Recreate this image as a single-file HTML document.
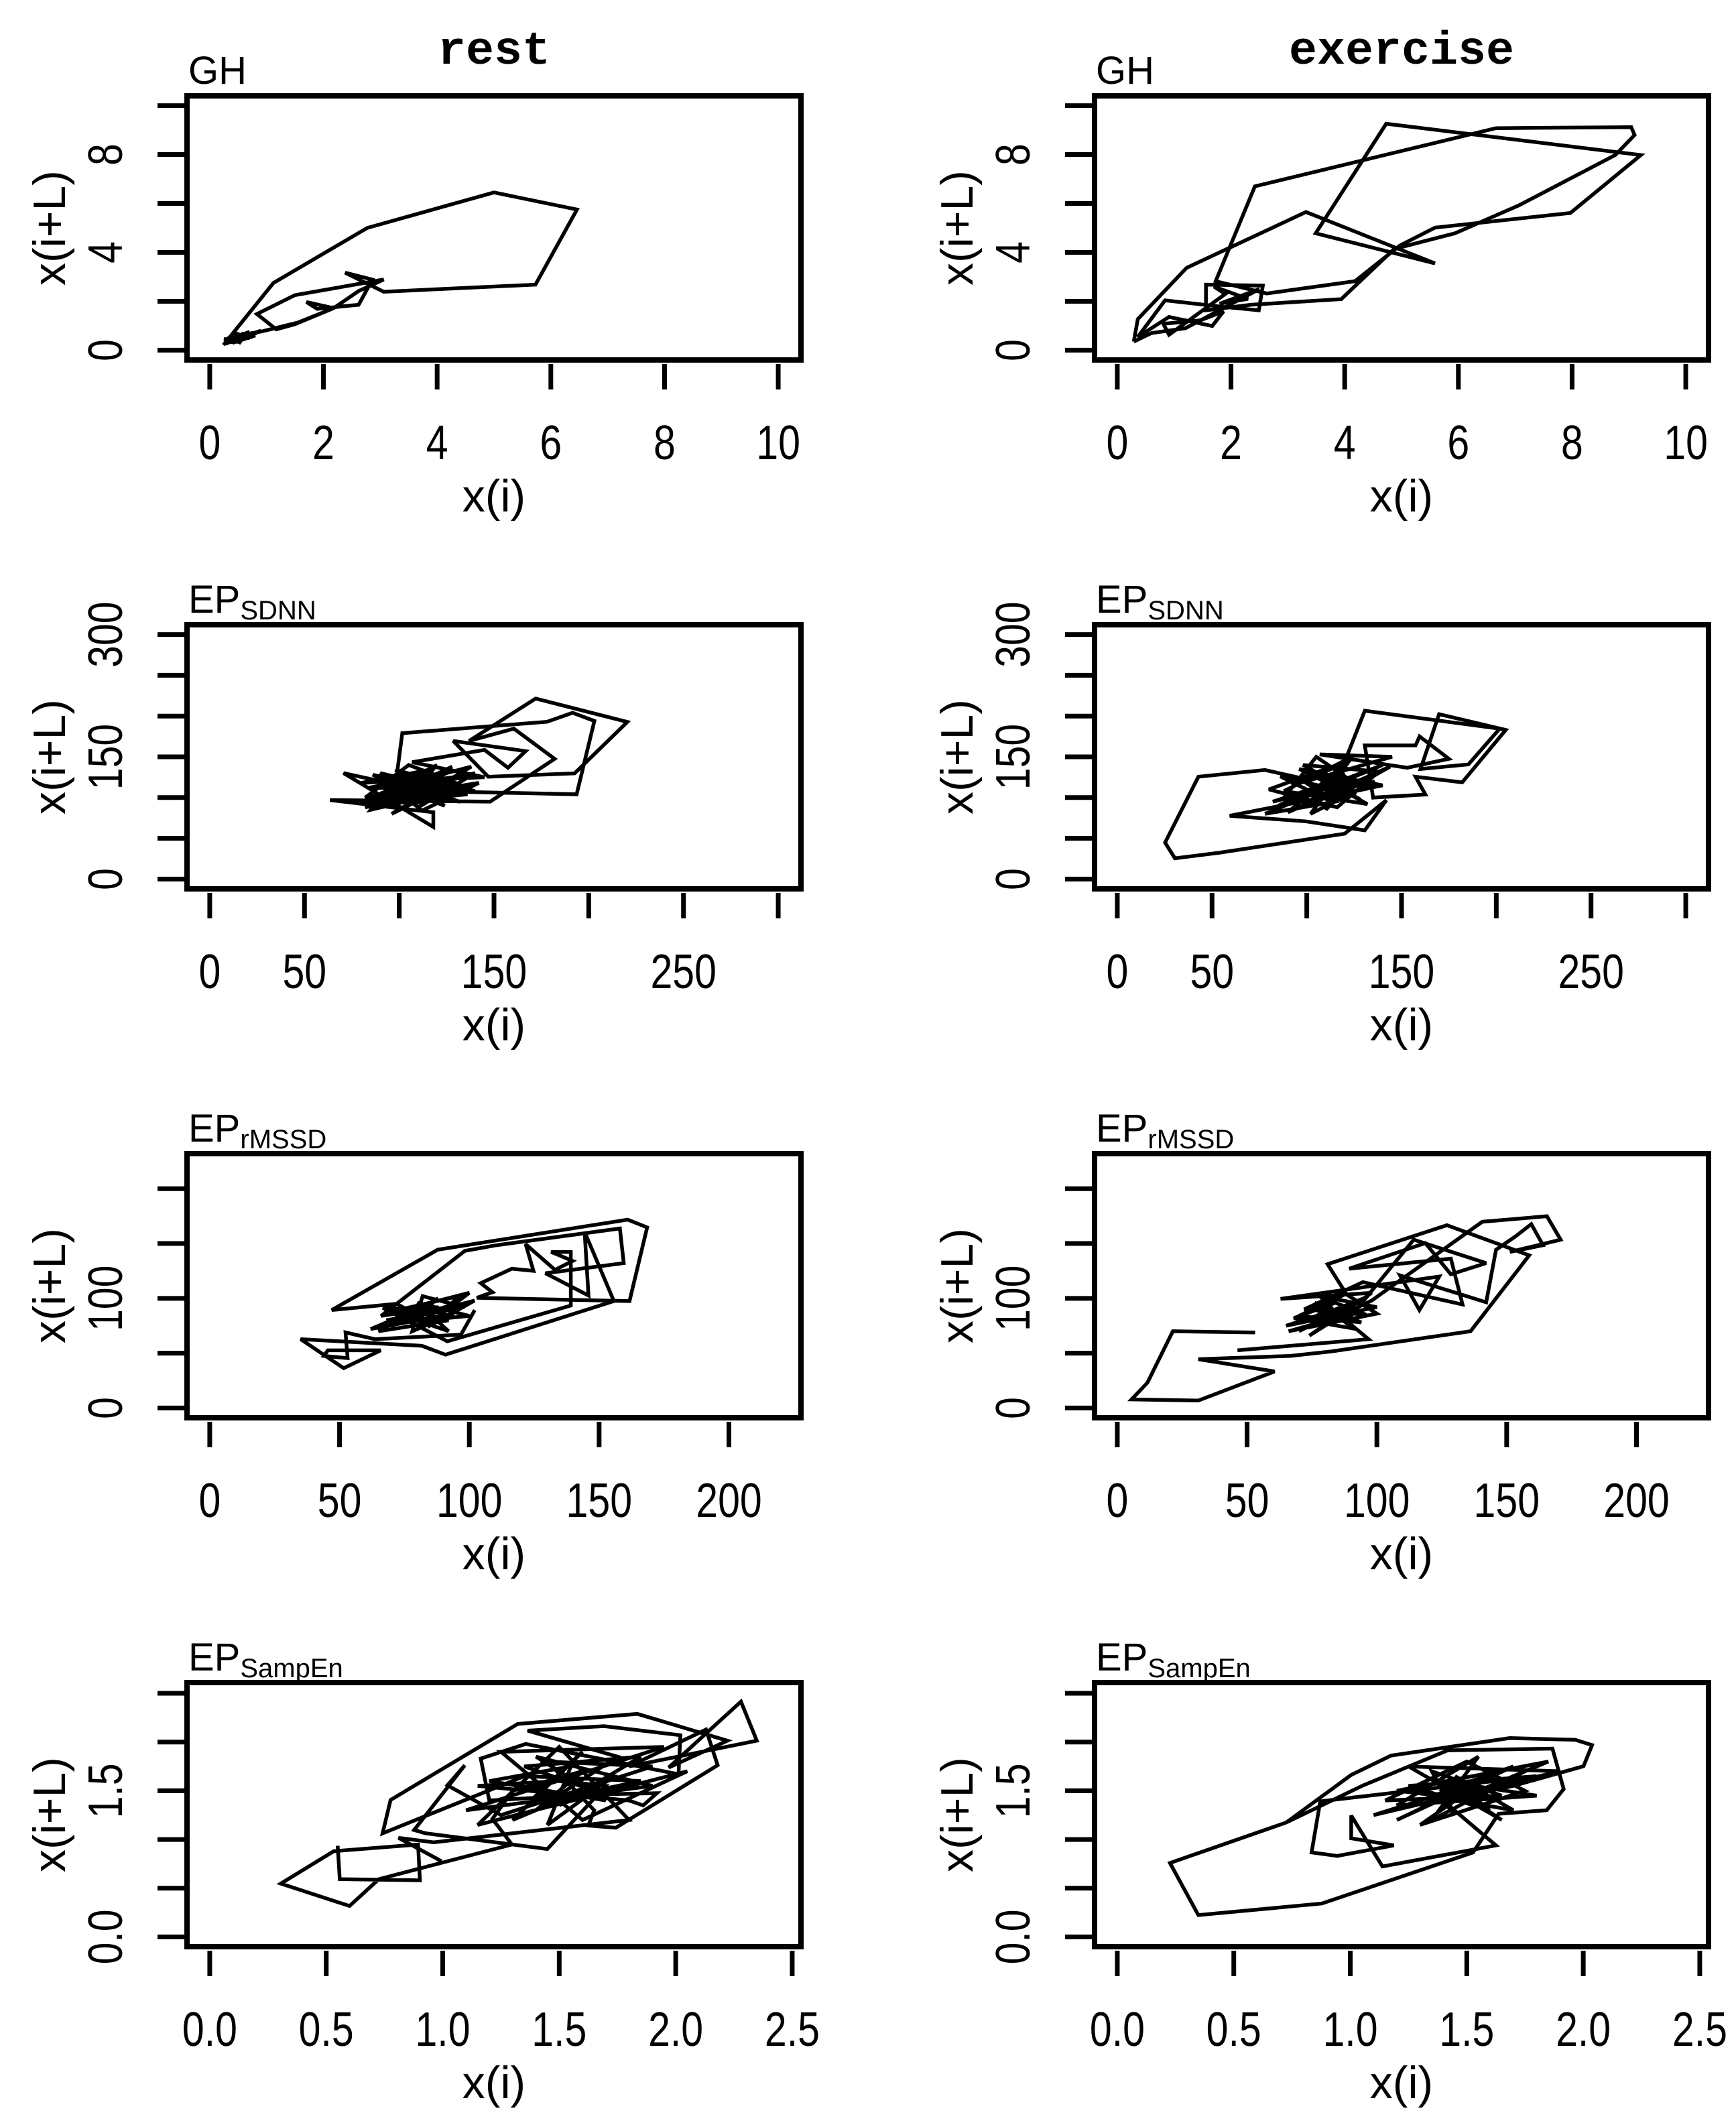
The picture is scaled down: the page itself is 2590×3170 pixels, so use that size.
<!DOCTYPE html>
<html><head><meta charset="utf-8"><style>
html,body{margin:0;padding:0;background:#fff;}
svg{display:block;}
text{font-family:"Liberation Sans",Arial,sans-serif;fill:#000;}
</style></head><body>
<svg id="chart" width="2590" height="3170" viewBox="0 0 2590 3170" xmlns="http://www.w3.org/2000/svg">
<rect x="0" y="0" width="2590" height="3170" fill="#fff"/>
<text x="737" y="95" text-anchor="middle" style="font-family:'Liberation Mono',monospace;font-size:70px;font-weight:bold">rest</text>
<text x="2091" y="95" text-anchor="middle" style="font-family:'Liberation Mono',monospace;font-size:70px;font-weight:bold">exercise</text>
</svg>
<script>
// ---- data (x(i), x(i+L)) pairs ----
const ghRest = [[0.24,0.21],[1.12,2.75],[2.77,5.0],[5.0,6.45],[6.46,5.75],[5.73,2.68],[3.06,2.39],[2.38,3.17],[2.86,2.89],[2.62,1.86],[1.89,1.69],[1.70,1.97],[2.18,1.72],[1.50,1.06],[1.17,0.85],[0.83,1.48],[1.50,2.25],[3.06,2.89],[2.62,2.42],[2.18,1.72],[1.55,1.13],[0.92,0.77],[0.5,0.6],[0.3,0.4],[0.7,0.75],[0.4,0.3],[0.8,0.6],[0.35,0.55],[0.6,0.45],[0.3,0.3],[0.9,0.8],[0.5,0.35],[0.25,0.45],[0.7,0.5],[0.45,0.7],[0.28,0.25],[0.6,0.7],[0.35,0.35],[0.75,0.55],[0.4,0.65],[0.55,0.3],[0.3,0.5]];
const ghEx = [[0.29,0.35],[0.36,1.27],[1.22,3.37],[3.32,5.65],[5.59,3.55],[3.49,4.78],[4.73,9.26],[9.21,7.98],[7.97,5.61],[5.59,5.01],[4.97,4.28],[4.18,2.82],[2.63,2.32],[1.73,2.82],[2.42,6.70],[6.66,9.08],[9.04,9.12],[9.10,8.80],[8.76,7.98],[7.07,5.93],[5.94,4.78],[4.87,4.14],[3.94,2.09],[2.35,1.86],[1.56,1.63],[1.56,2.68],[2.56,2.64],[2.49,1.63],[1.87,1.77],[0.84,2.04],[0.36,0.54],[0.91,1.36],[1.67,0.99],[1.87,1.59],[1.46,1.22],[0.81,1.08],[0.91,0.63],[1.9,2.3],[1.7,2.6],[2.3,2.1],[1.8,1.9],[2.5,2.5],[1.2,0.9],[0.6,0.7],[0.29,0.35]];
const sdnnRest = [[95,110],[120,125],[88,95],[130,118],[105,140],[82,100],[140,130],[110,88],[92,120],[125,105],[100,130],[85,85],[135,112],[115,98],[98,115],[101.6,179],[178,193],[191.5,204],[203,194],[193.6,104],[114,108],[70.6,130],[118,64],[118,82],[63.4,97],[148,95],[182,147.5],[160.5,184.5],[136.8,169.5],[172,221.5],[220.4,192.8],[192.5,129.7],[147,125.6],[128.5,169.5],[166.7,157],[157.4,136.6],[145,158.5],[106.8,143.4],[145,125],[80,118],[118,135],[104,92],[128,100],[90,105],[112,122],[138,138],[96,80],[122,110],[86,128],[108,102],[132,95],[100,118],[116,112],[84,112],[126,132],[102,96],[136,104],[90,130],[112,84],[142,118],[94,100],[120,140],[80,92],[132,126],[106,118],[124,90],[88,122],[140,108],[98,134],[114,104],[82,88],[128,138],[104,112]];
const sdnnEx = [[85,90],[120,130],[100,105],[140,140],[78,80],[115,95],[95,125],[77.9,133.8],[42.8,125.6],[25.2,44.7],[30.4,25.5],[54,32.4],[120,55.7],[142,96.8],[130.6,59.8],[99.6,70.8],[59.3,77.6],[130,110],[105,150],[88,100],[125,120],[110,85],[130.6,206.5],[201.8,184.5],[185.3,140.7],[160,135],[169.8,202.3],[205,183],[182,118.7],[157.4,125.6],[162.6,103.7],[135,100],[130.6,164],[157.4,164],[159.5,175],[175,147.5],[153,136.6],[106.8,153],[145,150],[92,115],[118,140],[100,90],[135,125],[82,95],[112,118],[128,98],[96,135],[140,115],[108,100],[90,82],[122,145],[80,110],[116,88],[138,132],[98,140],[126,104],[86,126],[112,96],[144,138],[94,86],[120,118],[104,128],[132,92],[88,108],[124,150],[102,80],[136,120]];
const rmssdRest = [[80,85],[95,95],[70,75],[88,100],[65,70],[92,80],[75,90],[100,105],[85,78],[72,95],[47,89.3],[87.8,144.3],[161,171.8],[168.5,164.7],[161.7,97.5],[102.9,100.5],[108.9,105.6],[104.4,113.8],[116.4,127],[124.7,125],[121.7,149.4],[133,126],[139.8,134.1],[131.5,142.3],[139.1,142.3],[139.1,93.4],[91.5,60.8],[66.7,91.3],[90,88],[68,80],[98,92],[82,102],[78,70],[94,86],[62,72],[86,96],[76,82],[102,98],[84,74],[96,102],[70,88],[92,70],[80,96],[100,84],[74,78],[88,92],[66,84],[98.3,143.3],[110.4,148.4],[158,163.7],[159.5,132.1],[129.3,122.9],[145.9,102.6],[144.4,160.6],[155.7,97.5],[90.8,48.6],[81.7,56.7],[35,62.8],[51.6,36.3],[65.9,52.6],[45.5,52.6],[44,47.5],[53.1,45.5],[52.3,68.9],[63.6,62.8],[96.8,66.9],[102.1,89.3]];
const rmssdEx = [[53.1,68.9],[21.4,70],[11.6,23.1],[5.5,7.8],[31.2,6.8],[60.6,33.3],[31.2,44.5],[66.6,47.5],[82.5,51.6],[136.1,70],[158.7,139.2],[127,166.7],[81,131.1],[87.8,105.6],[75,80],[90,95],[70,70],[95,100],[82,88],[65,75],[100,92],[78,102],[88,78],[114.2,153.5],[142.1,132.1],[128.5,121.9],[118.7,150.4],[89.3,127],[128.5,136.2],[133,94.4],[94.6,114.8],[72,90],[96,85],[84,96],[68,82],[92,72],[80,90],[76,96],[94,78],[70,84],[88,104],[100,86],[66,70],[84,82],[98,98],[140.6,169.8],[165.5,174.9],[170.8,153.5],[151.2,142.3],[164,148.4],[159.5,167.7],[153.4,156.5],[145.9,144.3],[142.1,96.4],[108.9,120.9],[116.4,89.3],[124,119.9],[62.9,99.5],[98,105],[74,66],[86,84],[96.8,62.8],[46.3,52.6]];
const sampRest = [[0.549,0.936],[0.558,0.593],[0.902,0.581],[0.894,0.948],[0.532,0.879],[0.305,0.547],[0.60,0.317],[0.726,0.593],[1.297,0.948],[1.213,1.211],[1.3,1.5],[1.6,1.7],[1.4,1.3],[1.75,1.85],[1.364,2.117],[1.692,2.163],[2.02,2.07],[2.012,1.67],[1.356,1.98],[1.163,1.83],[1.2,1.4],[1.55,1.45],[1.85,1.6],[1.35,1.65],[0.742,1.063],[0.776,1.406],[1.322,2.186],[1.835,2.289],[2.222,2.014],[1.97,1.739],[2.28,2.415],[2.348,2.014],[1.80,1.75],[2.13,2.128],[2.18,1.762],[1.743,1.12],[1.625,1.143],[1.65,1.3],[1.45,1.8],[1.9,1.75],[1.25,1.25],[1.02,1.556],[1.095,1.762],[0.877,1.097],[0.927,1.063],[1.449,0.902],[1.7,1.55],[1.5,1.6],[1.15,1.55],[1.8,1.4],[1.86,1.349],[1.919,1.475],[1.4,1.45],[1.6,1.9],[1.3,1.2],[1.75,1.65],[1.5,1.35],[1.85,1.85],[1.35,1.75],[1.65,1.5],[1.45,1.15],[1.55,1.75],[1.2,1.6],[1.7,1.4],[1.4,1.85],[1.9,1.55],[1.1,1.3],[1.95,1.95],[1.25,1.9],[1.6,1.2],[2.05,1.7],[1.15,1.15],[1.5,1.95],[1.8,1.2],[0.961,0.971],[0.81,1.017],[0.995,0.776]];
const sampEx = [[0.725,1.174],[0.226,0.759],[0.348,0.224],[0.878,0.343],[1.527,0.867],[1.637,1.264],[1.843,1.30],[1.916,1.517],[1.868,1.933],[1.418,1.915],[1.053,1.553],[0.725,1.174],[1.004,1.662],[1.175,1.861],[1.685,2.041],[1.965,2.023],[2.038,1.969],[2.001,1.752],[1.70,1.55],[1.3,1.35],[1.55,1.6],[1.2,1.2],[1.7,1.75],[1.4,1.5],[1.6,1.3],[1.25,1.55],[1.8,1.65],[0.871,1.391],[0.834,0.867],[0.944,0.831],[1.187,0.939],[1.004,1.012],[1.004,1.246],[1.138,0.723],[1.625,0.939],[1.393,1.409],[1.45,1.25],[1.35,1.7],[1.65,1.45],[1.15,1.4],[1.5,1.8],[1.75,1.5],[1.3,1.15],[1.6,1.65],[1.4,1.35],[1.85,1.8],[1.2,1.5],[1.55,1.4],[1.45,1.65],[1.7,1.3],[1.35,1.45],[1.5,1.55],[1.1,1.25],[1.9,1.7],[1.25,1.75],[1.65,1.2],[1.4,1.6],[1.8,1.45],[1.2,1.35],[1.55,1.85],[1.35,1.2],[1.75,1.7]];

// ---- axes (tick values & labels) ----
const ghTicks = [0,2,4,6,8,10];
const ghXLabels = ["0","2","4","6","8","10"];
const ghYLabels = ["0","","4","","8",""];
const sdnnTicks = [0,50,100,150,200,250,300];
const sdnnXLabels = ["0","50","","150","","250",""];
const sdnnYLabels = ["0","","","150","","","300"];
const rmssdTicks = [0,50,100,150,200];
const rmssdXLabels = ["0","50","100","150","200"];
const rmssdYLabels = ["0","","100","",""];
const sampTicks = [0,0.5,1,1.5,2,2.5];
const sampXLabels = ["0.0","0.5","1.0","1.5","2.0","2.5"];
const sampYLabels = ["0.0","","","1.5","",""];

const NS = "http://www.w3.org/2000/svg";
const svg = document.getElementById('chart');
function mk(tag, attrs, parent){const e=document.createElementNS(NS,tag);for(const k in attrs)e.setAttribute(k,attrs[k]);(parent||svg).appendChild(e);return e;}

const W=916,H=394;
const colX=[279,1633];
const rowY=[143,932,1721,2510];

const panels=[
 {row:0,col:0,name:'gh-rest',title:'GH',sub:'',data:ghRest,xl:[0,10],yl:[0,10],xt:ghTicks,yt:ghTicks,xlab:ghXLabels,ylab:ghYLabels},
 {row:0,col:1,name:'gh-exercise',title:'GH',sub:'',data:ghEx,xl:[0,10],yl:[0,10],xt:ghTicks,yt:ghTicks,xlab:ghXLabels,ylab:ghYLabels},
 {row:1,col:0,name:'sdnn-rest',title:'EP',sub:'SDNN',data:sdnnRest,xl:[0,300],yl:[0,300],xt:sdnnTicks,yt:sdnnTicks,xlab:sdnnXLabels,ylab:sdnnYLabels},
 {row:1,col:1,name:'sdnn-exercise',title:'EP',sub:'SDNN',data:sdnnEx,xl:[0,300],yl:[0,300],xt:sdnnTicks,yt:sdnnTicks,xlab:sdnnXLabels,ylab:sdnnYLabels},
 {row:2,col:0,name:'rmssd-rest',title:'EP',sub:'rMSSD',data:rmssdRest,xl:[0,219],yl:[0,223],xt:rmssdTicks,yt:rmssdTicks,xlab:rmssdXLabels,ylab:rmssdYLabels},
 {row:2,col:1,name:'rmssd-exercise',title:'EP',sub:'rMSSD',data:rmssdEx,xl:[0,219],yl:[0,223],xt:rmssdTicks,yt:rmssdTicks,xlab:rmssdXLabels,ylab:rmssdYLabels},
 {row:3,col:0,name:'sampen-rest',title:'EP',sub:'SampEn',data:sampRest,xl:[0,2.44],yl:[0,2.51],xt:sampTicks,yt:sampTicks,xlab:sampXLabels,ylab:sampYLabels},
 {row:3,col:1,name:'sampen-exercise',title:'EP',sub:'SampEn',data:sampEx,xl:[0,2.44],yl:[0,2.51],xt:sampTicks,yt:sampTicks,xlab:sampXLabels,ylab:sampYLabels}
];

panels.forEach(p=>{
  const x0=colX[p.col], y0=rowY[p.row];
  const xr=p.xl[1]-p.xl[0], yr=p.yl[1]-p.yl[0];
  const xmin=p.xl[0]-0.04*xr, xmax=p.xl[1]+0.04*xr;
  const ymin=p.yl[0]-0.04*yr, ymax=p.yl[1]+0.04*yr;
  const sx=v=>x0+(v-xmin)/(xmax-xmin)*W;
  const sy=v=>y0+H-(v-ymin)/(ymax-ymin)*H;
  const g=mk('g',{});
  
  

  const d=p.data.map((pt,i)=>(i?'L':'M')+sx(pt[0]).toFixed(1)+','+sy(pt[1]).toFixed(1)).join(' ');
  const path=mk('path',{d:d,fill:'none',stroke:'#000','stroke-width':5.5,'stroke-linejoin':'miter','stroke-miterlimit':3},g);
  
  

  const fr=mk('rect',{x:x0,y:y0,width:W,height:H,fill:'none',stroke:'#000','stroke-width':8},g);
  
  

  p.xt.forEach((v,i)=>{
    const X=sx(v);
    const t=mk('line',{x1:X,x2:X,y1:y0+H+6,y2:y0+H+44,stroke:'#000','stroke-width':7},g);
    
    
    if(p.xlab[i]){
      const tx=mk('text',{transform:'translate('+X.toFixed(1)+','+(y0+H+148)+') scale(0.82,1)','text-anchor':'middle','font-size':72},g);
      tx.textContent=p.xlab[i];
      
      
    }
  });
  p.yt.forEach((v,i)=>{
    const Y=sy(v);
    const t=mk('line',{x1:x0-44,x2:x0-2,y1:Y,y2:Y,stroke:'#000','stroke-width':7},g);
    
    
    if(p.ylab[i]){
      const tx=mk('text',{transform:'translate('+(x0-97)+','+Y.toFixed(1)+') rotate(-90) scale(0.82,1)','text-anchor':'middle','font-size':72},g);
      tx.textContent=p.ylab[i];
      
      
    }
  });
  const xt=mk('text',{x:x0+W/2,y:y0+H+226,'text-anchor':'middle','font-size':68},g);
  xt.textContent='x(i)';
  
  
  const yt=mk('text',{transform:'translate('+(x0-182)+','+(y0+H/2)+') rotate(-90)','text-anchor':'middle','font-size':68},g);
  yt.textContent='x(i+L)';
  
  
  const tt=mk('text',{x:x0+2,y:y0-18,'font-size':58},g);
  
  
  const m=mk('tspan',{},tt); m.textContent=p.title;
  if(p.sub){const s=mk('tspan',{'font-size':40,dy:10},tt); s.textContent=p.sub;}
});
</script>
</body></html>
